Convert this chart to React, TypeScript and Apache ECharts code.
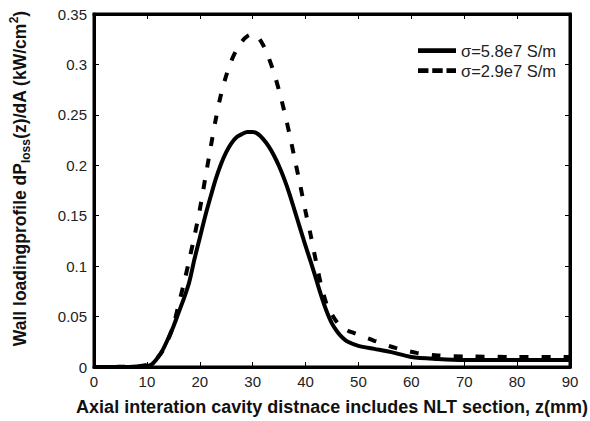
import React, { useEffect, useRef } from "react";
import * as echarts from "echarts";

const xTicks = { min: 0, max: 90, interval: 10 };
const yTicks = { min: 0, max: 0.35, interval: 0.05 };

const seriesNames = ["σ=5.8e7 S/m", "σ=2.9e7 S/m"];

const solidData: [number, number][] = [
  [0, 0], [5, 0], [8, 0.0005], [10, 0.001], [11, 0.003], [12, 0.009], [13, 0.017],
  [14, 0.028], [15, 0.04], [16, 0.054], [17, 0.068], [18, 0.084], [19, 0.107],
  [20, 0.128], [21, 0.149], [22, 0.168], [23, 0.186], [24, 0.201], [25, 0.213],
  [26, 0.222], [27, 0.228], [28, 0.231], [29, 0.233], [30, 0.233], [31, 0.231],
  [32, 0.226], [33, 0.219], [34, 0.21], [35, 0.199], [36, 0.186], [37, 0.171],
  [38, 0.154], [39, 0.137], [40, 0.12], [41, 0.104], [42, 0.087], [43, 0.07],
  [44, 0.055], [45, 0.043], [46, 0.035], [47, 0.029], [48, 0.025], [50, 0.021],
  [53, 0.018], [56, 0.015], [60, 0.01], [65, 0.008], [70, 0.007], [80, 0.007], [90, 0.007],
];

const dashedData: [number, number][] = [
  [0, 0], [8, 0.0005], [10, 0.002], [11, 0.004], [12, 0.009], [13, 0.016], [14, 0.027],
  [15, 0.041], [16, 0.062], [17, 0.083], [18, 0.106], [19, 0.13], [20, 0.156],
  [21, 0.186], [22, 0.216], [23, 0.245], [24, 0.27], [25, 0.289], [26, 0.304],
  [27, 0.315], [28, 0.323], [29, 0.328], [30, 0.33], [31, 0.327], [32, 0.319],
  [33, 0.307], [34, 0.292], [35, 0.274], [36, 0.253], [37, 0.23], [38, 0.205],
  [39, 0.18], [40, 0.154], [41, 0.13], [42, 0.104], [43, 0.08], [44, 0.062],
  [45, 0.052], [46, 0.044], [47, 0.039], [48, 0.036], [49, 0.034], [53, 0.026],
  [57, 0.019], [61, 0.014], [65, 0.0115], [70, 0.0105], [80, 0.01], [90, 0.01],
];

const xTitle = "Axial interation cavity distnace includes NLT section, z(mm)";
const yTitleParts = ["Wall loadingprofile dP", "loss", "(z)/dA (kW/cm", "2", ")"];

const FONT = "'Liberation Sans', Arial, sans-serif";

const mkLine = () => ({ show: true, onZero: false, lineStyle: { color: "#000", width: 3 } });
const mkTick = () => ({ show: true, inside: true, length: 5, lineStyle: { color: "#000", width: 1 } });

const SOLID_ICON = "path://M0,0H40V5H0Z";
const DASH_ICON = "path://M0,0H11V5H0ZM15,0H26V5H15ZM30,0H40V5H30Z";

export default function App() {
  const ref = useRef<HTMLDivElement>(null);
  useEffect(() => {
    if (!ref.current) return;
    const chart = echarts.init(ref.current, undefined, { renderer: "svg" });
    chart.setOption({
      animation: false,
      grid: { left: 84, right: 20, top: 14, bottom: 52, show: true, borderColor: "#000", borderWidth: 3 },
      legend: {
        orient: "vertical",
        left: 413,
        top: 37,
        itemWidth: 38,
        itemHeight: 14,
        itemGap: 3,
        textStyle: { fontSize: 16.5, color: "#222", fontFamily: FONT },
        data: [
          { name: seriesNames[0], icon: SOLID_ICON },
          { name: seriesNames[1], icon: DASH_ICON },
        ],
      },
      xAxis: [
        {
          type: "value",
          ...xTicks,
          axisLine: mkLine(),
          axisTick: mkTick(),
          splitLine: { show: false },
          axisLabel: { fontSize: 15, color: "#222", margin: 7, fontFamily: FONT },
          name: xTitle,
          nameLocation: "middle",
          nameGap: 31,
          nameTextStyle: { fontSize: 18, fontWeight: "bold", color: "#111", fontFamily: FONT },
        },
        {
          type: "value",
          position: "top",
          ...xTicks,
          axisLine: mkLine(),
          axisTick: mkTick(),
          splitLine: { show: false },
          axisLabel: { show: false },
        },
      ],
      yAxis: [
        {
          type: "value",
          ...yTicks,
          axisLine: mkLine(),
          axisTick: mkTick(),
          splitLine: { show: false },
          axisLabel: { fontSize: 15, color: "#222", margin: 7, fontFamily: FONT },
          name:
            "{a|" + yTitleParts[0] + "}{s|" + yTitleParts[1] + "}{a|" + yTitleParts[2] +
            "}{p|" + yTitleParts[3] + "}{a|" + yTitleParts[4] + "}",
          nameLocation: "middle",
          nameRotate: 90,
          nameGap: 62,
          nameTextStyle: {
            color: "#111",
            padding: [0, 0, 0, 24],
            rich: {
              a: { fontSize: 17.5, fontWeight: "bold", fontFamily: FONT, lineHeight: 24, verticalAlign: "middle", color: "#111" },
              s: { fontSize: 12, fontWeight: "bold", fontFamily: FONT, lineHeight: 13, verticalAlign: "bottom", color: "#111" },
              p: { fontSize: 12, fontWeight: "bold", fontFamily: FONT, lineHeight: 13, verticalAlign: "top", color: "#111" },
            },
          },
        },
        {
          type: "value",
          position: "right",
          ...yTicks,
          axisLine: mkLine(),
          axisTick: mkTick(),
          splitLine: { show: false },
          axisLabel: { show: false },
        },
      ],
      series: [
        {
          name: seriesNames[0],
          type: "line",
          data: solidData,
          smooth: 0.3,
          showSymbol: false,
          symbol: "none",
          lineStyle: { color: "#000", width: 4, type: "solid" },
          itemStyle: { color: "#000" },
        },
        {
          name: seriesNames[1],
          type: "line",
          xAxisIndex: 1,
          yAxisIndex: 1,
          data: dashedData,
          smooth: 0.3,
          showSymbol: false,
          symbol: "none",
          lineStyle: { color: "#000", width: 4, type: [9, 13] },
          itemStyle: { color: "#000" },
        },
      ],
    });
    return () => chart.dispose();
  }, []);
  return <div ref={ref} style={{ width: 590, height: 421, position: "absolute", left: 0, top: 0, background: "#fff" }} />;
}
